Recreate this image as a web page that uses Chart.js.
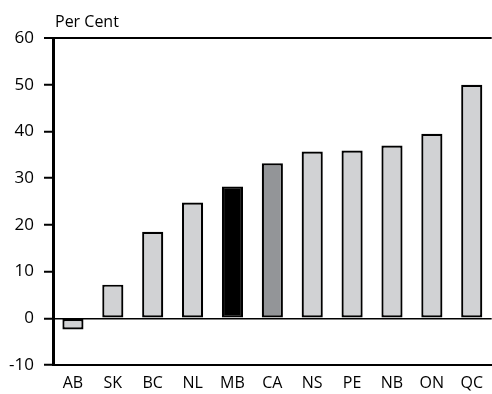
<!DOCTYPE html>
<html>
<head>
<meta charset="utf-8">
<script src="https://cdn.jsdelivr.net/npm/chart.js@4/dist/chart.umd.min.js"></script>
<style>
  html, body { margin: 0; padding: 0; background: #ffffff; }
  #wrap { width: 492px; height: 394px; }
</style>
</head>
<body>
<div id="wrap"><canvas id="chart"></canvas></div>
<script>
// Provinces and national average, sorted by value
const categories = ['AB', 'SK', 'BC', 'NL', 'MB', 'CA', 'NS', 'PE', 'NB', 'ON', 'QC'];
const values = [-2.4, 7.2, 18.5, 24.8, 28.2, 33.2, 35.7, 35.9, 37.0, 39.5, 50.0];
const barColors = ['#d1d2d4', '#d1d2d4', '#d1d2d4', '#d1d2d4', '#000000', '#939598',
                   '#d1d2d4', '#d1d2d4', '#d1d2d4', '#d1d2d4', '#d1d2d4'];
const yTicks = [-10, 0, 10, 20, 30, 40, 50, 60];
const unitLabel = 'Per Cent';

const FONT = '"Open Sans", Lato, sans-serif';

const unitPlugin = {
  id: 'unitLabel',
  afterDraw(chart) {
    const { ctx, chartArea } = chart;
    ctx.save();
    ctx.font = '16px ' + FONT;
    ctx.fillStyle = '#000';
    ctx.textAlign = 'left';
    ctx.textBaseline = 'alphabetic';
    ctx.fillText(unitLabel, chartArea.left + 2, 27);
    ctx.restore();
  }
};

new Chart(document.getElementById('chart'), {
  type: 'bar',
  data: {
    labels: categories,
    datasets: [{
      data: values,
      backgroundColor: barColors,
      borderColor: '#000',
      borderWidth: 2.2,
      borderSkipped: false,
      categoryPercentage: 1.0,
      barPercentage: 0.53
    }]
  },
  options: {
    responsive: true,
    maintainAspectRatio: false,
    animation: false,
    devicePixelRatio: 1,
    layout: { padding: { top: 38, left: 0, right: 0, bottom: 0 } },
    plugins: { legend: { display: false }, tooltip: { enabled: false } },
    scales: {
      x: {
        afterFit(scale) { scale.height = 29; },
        grid: { display: true, color: 'rgba(0,0,0,0)', drawTicks: false },
        border: { display: true, color: '#000', width: 2 },
        ticks: { color: '#000', font: { family: FONT, size: 16 }, padding: 9 }
      },
      y: {
        min: -10,
        max: 60,
        afterFit(scale) { scale.width = 53; },
        afterBuildTicks(scale) { scale.ticks = yTicks.map(v => ({ value: v })); },
        grid: {
          color: ctx => (ctx.tick && (ctx.tick.value === 0 || ctx.tick.value === 60)) ? '#000' : 'rgba(0,0,0,0)',
          lineWidth: ctx => (ctx.tick && ctx.tick.value === 60) ? 2 : 1.5,
          tickColor: '#000',
          tickLength: 9,
          tickWidth: 2
        },
        border: { display: true, color: '#000', width: 3 },
        ticks: { color: '#000', font: { family: FONT, size: 17 }, padding: 10 }
      }
    }
  },
  plugins: [unitPlugin]
});
</script>
</body>
</html>
